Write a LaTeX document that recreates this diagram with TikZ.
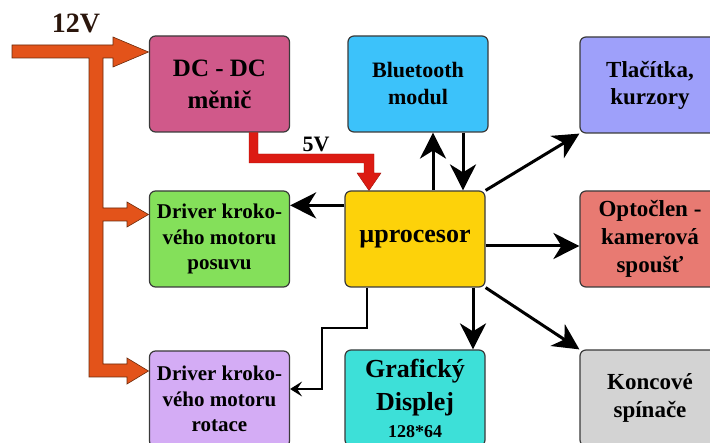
\documentclass[tikz,border=0pt]{standalone}
\usepackage{fontspec}
\setmainfont{Liberation Serif}
\usetikzlibrary{arrows.meta,calc}
\definecolor{cdc}{HTML}{D0598A}
\definecolor{cbt}{HTML}{3CC2FA}
\definecolor{ctl}{HTML}{9EA0FA}
\definecolor{cpos}{HTML}{84E05A}
\definecolor{cup}{HTML}{FDD20A}
\definecolor{copt}{HTML}{E87A72}
\definecolor{crot}{HTML}{D4ACF5}
\definecolor{cdisp}{HTML}{3DE0D8}
\definecolor{ckon}{HTML}{D3D3D3}
\definecolor{corange}{HTML}{E3531A}
\definecolor{corline}{HTML}{6B2A0A}
\definecolor{cred}{HTML}{DC1B13}
\definecolor{credline}{HTML}{A01008}
\definecolor{cboxline}{HTML}{3A3A3A}
\definecolor{ctext12}{HTML}{2B160C}
\begin{document}
\begin{tikzpicture}[x=1pt,y=-1pt,
  box/.style={draw=cboxline, line width=1.2pt, rounded corners=6pt,
    minimum width=140pt, minimum height=96pt, align=center, inner sep=0pt},
  arr/.style={draw=black, line width=3pt,
    -{Stealth[length=26pt,width=26pt,inset=8pt]}},
  arrthin/.style={draw=black, line width=2pt,
    -{Stealth[length=12pt,width=15pt,inset=5pt]}},
  fat12/.style={fill=corange, draw=corline, line width=0.6pt},
  fat5/.style={fill=cred, draw=credline, line width=0.4pt},
  lbl/.style={anchor=base, inner sep=0pt, font=\bfseries}
]
\useasboundingbox (0,0) rectangle (710,443);
\clip (0,0) rectangle (710,443);

% boxes
\node[box, fill=cdc, font=\bfseries\fontsize{25}{32}\selectfont] (dc) at (219.5,84) {DC - DC\\měnič};
\node[box, fill=cbt, font=\bfseries\fontsize{22}{27}\selectfont] (bt) at (418,84) {Bluetooth\\modul};
\node[box, fill=ctl, font=\bfseries\fontsize{23}{27}\selectfont] (tl) at (650,85) {Tlačítka,\\kurzory};
\node[box, fill=cpos, font=\bfseries\fontsize{21}{25.5}\selectfont] (pos) at (219.5,239) {Driver kroko-\\vého motoru\\posuvu};
\node[box, fill=cup, font=\bfseries\fontsize{26}{30}\selectfont] (up) at (415,239) {µprocesor};
\node[box, fill=copt, font=\bfseries\fontsize{23}{28}\selectfont] (opt) at (650,239) {Optočlen -\\kamerová\\spoušť};
\node[box, fill=crot, font=\bfseries\fontsize{21}{25.5}\selectfont] (rot) at (219.5,399) {Driver kroko-\\vého motoru\\rotace};
\node[box, fill=cdisp, font=\bfseries\fontsize{26}{33}\selectfont] (disp) at (415,398) {Grafický\\Displej\\[-6pt]{\fontsize{18}{22}\selectfont 128*64}};
\node[box, fill=ckon, font=\bfseries\fontsize{23}{28}\selectfont] (kon) at (650,398) {Koncové\\spínače};

% labels
\node[lbl, text=ctext12, font=\bfseries\fontsize{28}{30}\selectfont] (t12) at (76,33) {12V};
\node[lbl, font=\bfseries\fontsize{22}{24}\selectfont] (t5) at (316,152) {5V};

% 12V power arrow
\path[fat12] (12,45) -- (113,45) -- (113,37) -- (148.5,52) -- (113,67) -- (113,58)
  -- (103,58) -- (103,208) -- (127,208) -- (127,202) -- (148.5,214.5) -- (127,227)
  -- (127,221) -- (103,221) -- (103,364) -- (127,364) -- (127,358) -- (148.5,371)
  -- (127,384) -- (127,377) -- (89,377) -- (89,58) -- (12,58) -- cycle;

% 5V power arrow
\path[fat5] (249,132.5) -- (249,163) -- (364,163) -- (364,173) -- (357,173)
  -- (369,190.5) -- (381,173) -- (374,173) -- (374,154) -- (258,154) -- (258,132.5) -- cycle;

% signal connectors
\draw[arr] ([yshift=-15pt]up.north west) -- ([yshift=-15pt]pos.north east);
\draw[arr] ([xshift=18pt]up.north) -- ([xshift=15pt]bt.south);
\draw[arr] ([xshift=45pt]bt.south) -- ([xshift=48pt]up.north);
\draw[arr] (up.north east) -- (tl.south west);
\draw[arr] ([yshift=-7pt]up.east) -- ([yshift=-7pt]opt.west);
\draw[arr] (up.south east) -- (kon.north west);
\draw[arr] ([xshift=58pt]up.south) -- ([xshift=58pt]disp.north);
\coordinate (k1) at (322,328);
\draw[arrthin] ([xshift=-48pt]up.south) |- (k1) |- ([yshift=10pt]rot.east);
\end{tikzpicture}
\end{document}
